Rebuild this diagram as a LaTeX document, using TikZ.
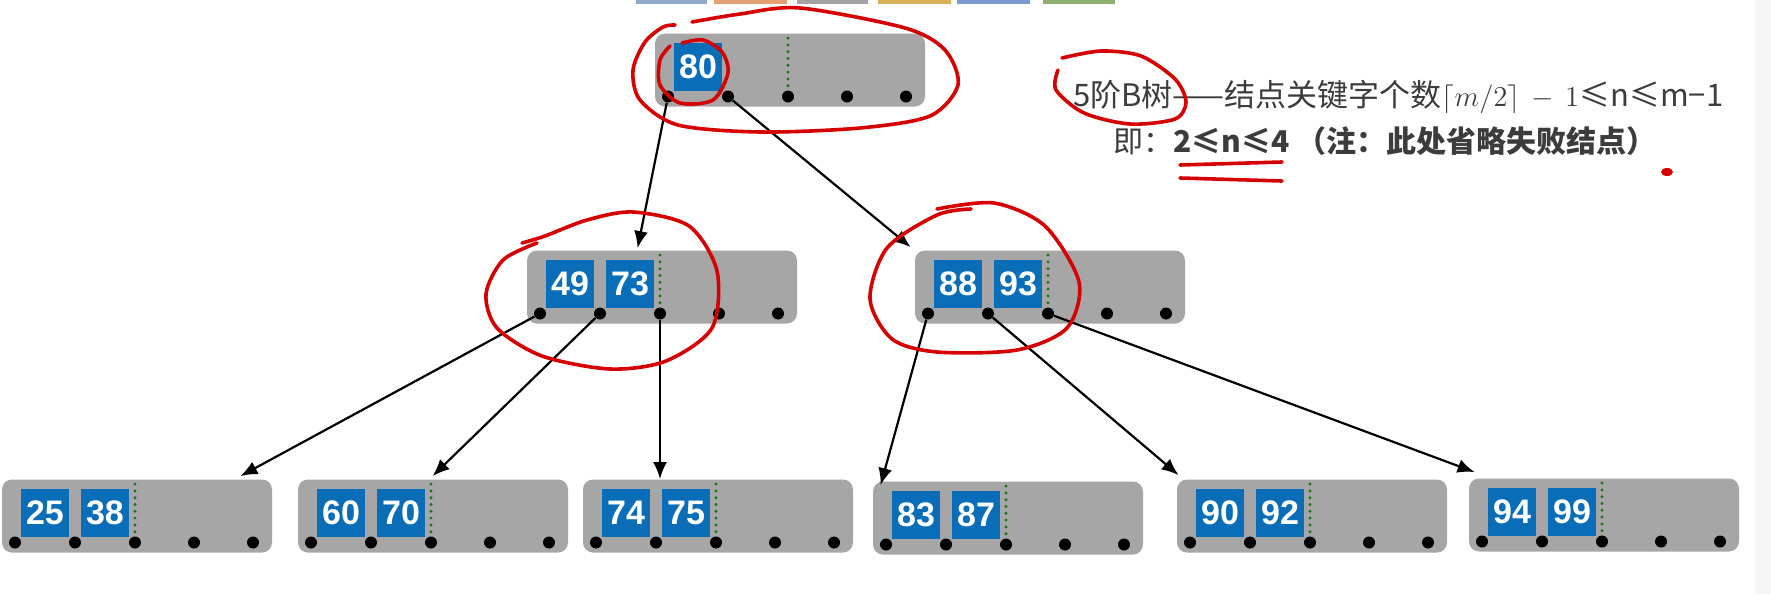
\documentclass[tikz,border=0pt]{standalone}
\usepackage{fontspec}
\setsansfont{Liberation Sans}
\newfontfamily\cjk{Noto Sans CJK SC}
\usepackage{xcolor}
\usepackage{tikz}
\usetikzlibrary{positioning,arrows.meta,calc}
\definecolor{nodegray}{HTML}{A6A6A6}
\definecolor{keyblue}{HTML}{0A6DB7}
\definecolor{mingreen}{HTML}{137313}
\definecolor{inkred}{HTML}{D60000}
\definecolor{textgray}{HTML}{3C3C3C}
\definecolor{tabA}{HTML}{8FAACC}
\definecolor{tabB}{HTML}{E2A274}
\definecolor{tabC}{HTML}{A3A3A3}
\definecolor{tabD}{HTML}{D9B055}
\definecolor{tabE}{HTML}{7E98D2}
\definecolor{tabF}{HTML}{8DB070}

% one B-tree node: name, centre, keys
\newcommand{\btnode}[3]{%
  \node[nodebox] (#1) at (#2) {};
  \foreach \k [count=\i] in {#3}
    \node[keybox] (#1-k\i) at ($(#1.center)+({-152+60*\i},-3)$) {\k};
  \draw[minline] ($(#1.north)+(-2,5)$) -- ($(#1.center)+(-2,26.5)$);
  \foreach \dx [count=\j] in {-122,-62,-2,57,116}
    \node[ptr] (#1-\j) at ($(#1.center)+(\dx,26.5)$) {};
}

\begin{document}
\begin{tikzpicture}[
    x=0.5pt, y=-0.5pt,
    >={Latex[length=8.5pt,width=7pt]},
    nodebox/.style={fill=nodegray, rounded corners=5pt, minimum width=135pt, minimum height=36.5pt, inner sep=0pt},
    keybox/.style={fill=keyblue, text=white, minimum size=24pt, inner sep=0pt, font=\sffamily\bfseries\fontsize{17}{17}\selectfont},
    ptr/.style={circle, fill=black, minimum size=6pt, inner sep=0pt},
    minline/.style={mingreen, line width=1.6pt, line cap=round, dash pattern=on 0pt off 3.4pt},
    arr/.style={->, line width=1.1pt},
    pen/.style={inkred, line width=1.8pt, line cap=round, line join=round}
  ]
    \useasboundingbox[fill=white] (0,0) rectangle (1771,594);
    \fill[gray!7] (1755,0) rectangle (1771,594);
    % strip at the top
    \fill[tabA] (636,0) rectangle (707,4);
    \fill[tabB] (714,0) rectangle (787,4);
    \fill[tabC] (797,0) rectangle (868,4);
    \fill[tabD] (878,0) rectangle (951,4);
    \fill[tabE] (957,0) rectangle (1030,4);
    \fill[tabF] (1043,0) rectangle (1115,4);
    % Top row
    \btnode{root}{790,70}{80}
    % Middle row
    \btnode{L}{662,287}{49,73}
    \btnode{R}{1050,287}{88,93}
    % Leaves
    \btnode{a}{137,516}{25,38}
    \btnode{b}{433,516}{60,70}
    \btnode{c}{718,516}{74,75}
    \btnode{d}{1008,518}{83,87}
    \btnode{e}{1312,516}{90,92}
    \btnode{f}{1604,515}{94,99}
    % Arrows
    \draw[arr] (root-1) -- ($(L.north west)+(111,-2)$);
    \draw[arr] (root-2) -- ($(R.north west)+(-4,-3)$);
    \draw[arr] (L-1) -- ($(a.north east)+(-32,-3)$);
    \draw[arr] (L-2) -- ($(b.north west)+(135,-3)$);
    \draw[arr] (L-3) -- (L-3 |- c.north);
    \draw[arr] (R-1) -- ($(d.north west)+(8,4)$);
    \draw[arr] (R-2) -- ($(e.north west)+(2,-4)$);
    \draw[arr] (R-3) -- ($(f.north west)+(6,-6)$);
    % Text
    \node[anchor=west, inner sep=0pt, text=textgray, font=\cjk\fontsize{15.5}{18}\selectfont] (rule) at (1073,97)
      {5阶B树——结点关键字个数$\lceil m/2\rceil\,-\,1$≤n≤m−1};
    \node[anchor=west, inner sep=0pt, text=textgray, font=\cjk\fontsize{15}{18}\selectfont] (range) at (1113,141)
      {即：{\bfseries 2≤n≤4 （注：此处省略失败结点）}};
    % Red pen marks
    \draw[pen] plot[smooth] coordinates {(675,25) (663,27) (645,42) (633,70) (640,100) (678,125) (760,132) (860,128) (930,116) (958,85) (945,50) (905,28) (800,8) (740,14) (692,22)};
    \draw[pen] plot[smooth] coordinates {(682,43) (703,40) (722,52) (728,73) (713,100) (680,103) (660,85) (660,60) (670,46)};
    \draw[pen] plot[smooth] coordinates {(522,243) (545,236) (587,220) (633,212) (689,226) (717,271) (712,328) (666,361) (610,369) (542,356) (497,328) (486,294) (503,260) (537,243)};
    \draw[pen] plot[smooth] coordinates {(937,209) (994,203) (1045,226) (1079,282) (1067,328) (1017,350) (937,352) (892,339) (870,299) (887,248) (937,215) (971,209)};
    \draw[pen] plot[smooth] coordinates {(1062,58) (1101,51) (1141,56) (1175,79) (1186,102) (1175,119) (1130,124) (1084,113) (1056,90) (1058,70)};
    \draw[pen] (1180,165) -- (1282,162);
    \draw[pen] (1180,178) -- (1282,181);
    \fill[inkred] (1667,172) ellipse (3pt and 2pt);
  \end{tikzpicture}
\end{document}
